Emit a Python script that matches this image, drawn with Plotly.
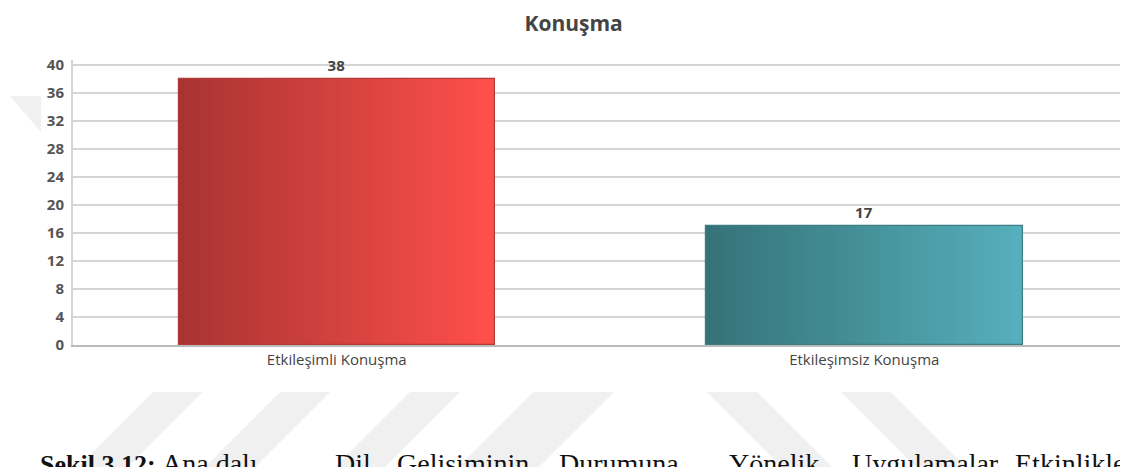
import plotly.graph_objects as go

# ---- data ----
categories = ["Etkileşimli Konuşma", "Etkileşimsiz Konuşma"]
values = [38, 17]
grad_left = ["#A83432", "#357378"]
grad_right = ["#FF4F4B", "#56AFBC"]
outline = ["#B23A38", "#3C7E83"]
title_text = "Konuşma"
y_ticks = [0, 4, 8, 12, 16, 20, 24, 28, 32, 36, 40]
caption_words = ["Şekil 3.12:", "Ana dalı", "Dil", "Gelişiminin", "Durumuna",
                 "Yönelik", "Uygulamalar", "Etkinlikleri"]

# page body has an 8px margin; figure pixels = page pixels - 8
OFF = 8
W, H = 1128 - OFF, 467 - OFF
L, T = 73 - OFF, 60 - OFF
PLOT_BOTTOM = 345 - OFF
R = 0
B = H - PLOT_BOTTOM
BAR_W = 0.6
N = 60


def hex2rgb(h):
    h = h.lstrip("#")
    return tuple(int(h[i:i + 2], 16) for i in (0, 2, 4))


def mix(a, b, t):
    ra, rb = hex2rgb(a), hex2rgb(b)
    return "rgb(%d,%d,%d)" % tuple(round(ra[k] + (rb[k] - ra[k]) * t) for k in range(3))


fig = go.Figure()

# gradient slices
for ci, (cat, val) in enumerate(zip(categories, values)):
    sw = BAR_W / N
    fig.add_trace(go.Bar(
        x=[cat] * N,
        y=[val] * N,
        width=[sw * 1.6] * N,
        offset=[-BAR_W / 2 + i * sw for i in range(N - 1)] + [BAR_W / 2 - sw * 1.6],
        marker=dict(color=[mix(grad_left[ci], grad_right[ci], i / (N - 1)) for i in range(N)],
                    line=dict(width=0)),
        showlegend=False, hoverinfo="skip",
    ))

# outline + labels
fig.add_trace(go.Bar(
    x=categories, y=values, width=BAR_W,
    marker=dict(color="rgba(0,0,0,0)", line=dict(color=outline, width=1.2)),
    text=[str(v) for v in values], textposition="outside",
    textfont=dict(family="Open Sans", size=15, color="#444444", weight="bold"),
    cliponaxis=False, showlegend=False,
))


# ---- decorative watermark stripes (page pixel -> paper) ----
def px(x):
    return (x - OFF - L) / (W - L - R)


def py(y):
    return (PLOT_BOTTOM - (y - OFF)) / (PLOT_BOTTOM - T)


shapes = []
stripe_top, stripe_bot = 392, 470
for x0, d in [(153, -1), (280, -1), (410, -1), (533, -1), (564, -1), (707, 1), (841, 1)]:
    x1 = x0 + 50
    dx = (stripe_bot - stripe_top) * d
    path = "M %f %f L %f %f L %f %f L %f %f Z" % (
        px(x0), py(stripe_top), px(x1), py(stripe_top),
        px(x1 + dx), py(stripe_bot), px(x0 + dx), py(stripe_bot))
    shapes.append(dict(type="path", path=path, xref="paper", yref="paper",
                       fillcolor="#F0F0F0", line=dict(width=0), layer="below"))
# small triangle at left
shapes.append(dict(type="path", xref="paper", yref="paper", layer="below",
                   path="M %f %f L %f %f L %f %f Z" % (px(10), py(96), px(41), py(96), px(41), py(132)),
                   fillcolor="#F0F0F0", line=dict(width=0)))

# caption words (cut off at the bottom like the reference)
cap_x = [38, 160, 333, 395, 557, 727, 850, 1013]
annotations = []
for w, x in zip(caption_words, cap_x):
    bold = w.startswith("Şekil")
    annotations.append(dict(
        text=("<b>%s</b>" % w) if bold else w,
        x=px(x), y=py(446 if not bold else 448), xref="paper", yref="paper",
        xanchor="left", yanchor="top", showarrow=False,
        font=dict(family="Liberation Serif", size=26 if bold else 28, color="#111111"),
    ))

fig.update_layout(
    width=W, height=H,
    margin=dict(l=L, r=R, t=T, b=B),
    paper_bgcolor="white", plot_bgcolor="rgba(0,0,0,0)",
    barmode="overlay", bargap=0,
    title=dict(text="<b>%s</b>" % title_text, x=0.505, xanchor="center", y=1 - (24 - OFF) / H,
               yanchor="middle",
               font=dict(family="Open Sans", size=21, color="#444444")),
    xaxis=dict(type="category", range=[-0.5, 1.5], showgrid=False,
               showline=True, linecolor="#BBBBBB", linewidth=2,
               ticks="", tickfont=dict(family="Open Sans", size=15, color="#444444")),
    yaxis=dict(range=[0, 40.7], tickvals=y_ticks, showgrid=True, gridcolor="#D4D4D4", gridwidth=2,
               showline=True, linecolor="#D4D4D4", linewidth=2, zeroline=False,
               ticks="", ticklabelstandoff=4,
               tickfont=dict(family="Open Sans", size=15, color="#555555", weight="bold")),
    shapes=shapes, annotations=annotations,
)

fig.write_html("out.html")
